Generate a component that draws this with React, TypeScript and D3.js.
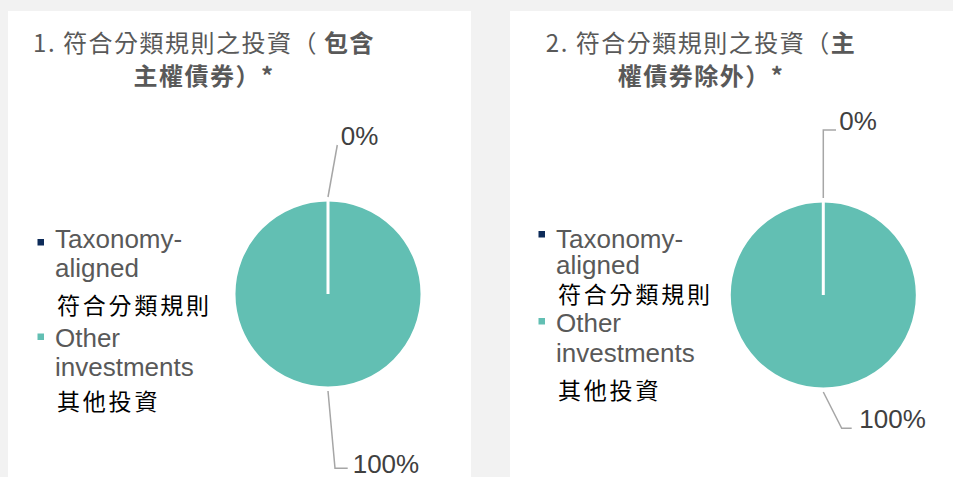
import React from "react";
import * as d3 from "d3";

// ---------- data ----------
const categories = ["Taxonomy-aligned", "Other investments"];
const legendEnglish = [["Taxonomy-", "aligned"], ["Other", "investments"]];
const legendChinese = ["符合分類規則", "其他投資"];
const colors = ["#0d2b59", "#62bfb3"];

const valuesInclSovereign = [0, 100];
const valuesExclSovereign = [0, 100];

const title1Line1 = [
  { text: "1. 符合分類規則之投資（", bold: false },
  { text: "包含", bold: true },
];
const title1Line2 = [{ text: "主權債券）*", bold: true }];
const title2Line1 = [
  { text: "2. 符合分類規則之投資（", bold: false },
  { text: "主", bold: true },
];
const title2Line2 = [{ text: "權債券除外）*", bold: true }];

// ---------- layout ----------
const W = 953;
const H = 477;
const LATIN = "'Liberation Sans', Arial, sans-serif";
const CJK = "'Noto Sans CJK TC', 'Noto Sans CJK SC', sans-serif";

type Seg = { text: string; bold: boolean };

type PanelCfg = {
  x0: number;
  x1: number;
  titleCx: number;
  titleLines: Seg[][];
  boldGap: number;
  cx: number;
  cy: number;
  r: number;
  values: number[];
  legendX: number;
  legendBase: number[]; // baselines: en1a, en1b, zh1, en2a, en2b, zh2
  squareY: number[];
  leaders: { pts: [number, number][]; label: [number, number] }[];
};

const panels: PanelCfg[] = [
  {
    x0: 8,
    x1: 471,
    titleCx: 204,
    titleLines: [title1Line1, title1Line2],
    boldGap: 6,
    cx: 328,
    cy: 294,
    r: 94,
    values: valuesInclSovereign,
    legendX: 55,
    legendBase: [248, 277, 314, 347, 376, 410],
    squareY: [239, 333.5],
    leaders: [
      { pts: [[9.3, -149]], label: [12.7, -149] },
      { pts: [[7, 174.3], [19.7, 174.3]], label: [24.7, 178.5] },
    ],
  },
  {
    x0: 510,
    x1: 953,
    titleCx: 701,
    titleLines: [title2Line1, title2Line2],
    boldGap: 0,
    cx: 823.3,
    cy: 295,
    r: 94,
    values: valuesExclSovereign,
    legendX: 556,
    legendBase: [247.7, 274, 303, 332, 361.7, 398.5],
    squareY: [231, 318],
    leaders: [
      { pts: [[0, -165], [12.7, -165]], label: [16, -165] },
      { pts: [[18.4, 133.3], [28.4, 133.3]], label: [36, 133] },
    ],
  },
];

function Panel({ cfg }: { cfg: PanelCfg }) {
  const pie = d3
    .pie<number>()
    .sort(null)
    .startAngle(0)
    .endAngle(2 * Math.PI)(cfg.values);
  const arc = d3.arc<d3.PieArcDatum<number>>().innerRadius(0).outerRadius(cfg.r);
  const total = d3.sum(cfg.values);
  const fmt = (v: number) => d3.format(".0%")(v / total);
  const lineGen = d3.line();

  return (
    <g>
      <rect x={cfg.x0} y={11} width={cfg.x1 - cfg.x0} height={H - 11} fill="#ffffff" />
      {/* title */}
      {cfg.titleLines.map((line, li) => (
        <text
          key={li}
          x={cfg.titleCx}
          y={52 + li * 32.5}
          textAnchor="middle"
          fontSize={24}
          fill="#595959"
          letterSpacing={1.5}
          fontFamily={CJK}
        >
          {line.map((s, si) => (
            <tspan
              key={si}
              fontWeight={s.bold ? 700 : 400}
              dx={si > 0 && s.bold ? cfg.boldGap : 0}
            >
              {s.text}
            </tspan>
          ))}
        </text>
      ))}
      {/* pie */}
      <g transform={`translate(${cfg.cx},${cfg.cy})`}>
        {pie.map((d, i) => (
          <path key={`f${i}`} d={arc(d) || ""} fill={colors[i]} />
        ))}
        {pie.map((d, i) => (
          <path
            key={`s${i}`}
            d={arc(d) || ""}
            fill="none"
            stroke="#ffffff"
            strokeWidth={3}
          />
        ))}
        {pie.map((d, i) => {
          const mid = (d.startAngle + d.endAngle) / 2;
          const start: [number, number] = [
            Math.sin(mid) * (cfg.r + 3),
            -Math.cos(mid) * (cfg.r + 3),
          ];
          const L = cfg.leaders[i];
          return (
            <g key={`l${i}`}>
              <path
                d={lineGen([start, ...L.pts]) || ""}
                fill="none"
                stroke="#a6a6a6"
                strokeWidth={1.5}
              />
              <text
                x={L.label[0]}
                y={L.label[1]}
                fontSize={26}
                fill="#404040"
                fontFamily={LATIN}
              >
                {fmt(d.data)}
              </text>
            </g>
          );
        })}
      </g>
      {/* legend */}
      {categories.map((c, i) => (
        <g key={c}>
          <rect
            x={cfg.legendX - 17.5}
            y={cfg.squareY[i]}
            width={6.5}
            height={6.5}
            fill={colors[i]}
          />
          <text x={cfg.legendX} y={cfg.legendBase[i * 3]} fontSize={26} fill="#595959" fontFamily={LATIN}>
            {legendEnglish[i][0]}
          </text>
          <text x={cfg.legendX} y={cfg.legendBase[i * 3 + 1]} fontSize={26} fill="#595959" fontFamily={LATIN}>
            {legendEnglish[i][1]}
          </text>
          <text
            x={cfg.legendX + 2}
            y={cfg.legendBase[i * 3 + 2]}
            fontSize={23}
            letterSpacing={2.8}
            fill="#000000"
            fontFamily={CJK}
          >
            {legendChinese[i]}
          </text>
        </g>
      ))}
    </g>
  );
}

export default function App() {
  return (
    <svg
      width={W}
      height={H}
      style={{ position: "absolute", left: 0, top: 0, display: "block" }}
    >
      <rect x={0} y={0} width={W} height={H} fill="#f2f2f2" />
      {panels.map((p, i) => (
        <Panel key={i} cfg={p} />
      ))}
    </svg>
  );
}
